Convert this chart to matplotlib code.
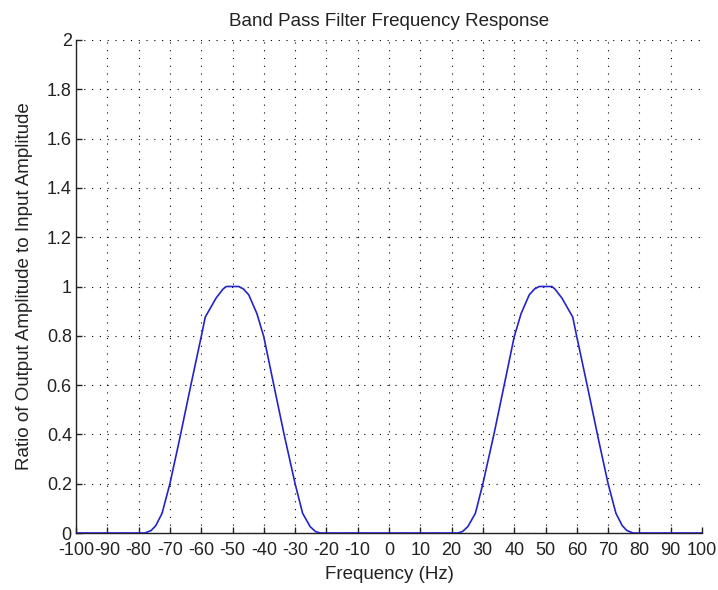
import matplotlib
matplotlib.use("Agg")
import matplotlib.pyplot as plt

plt.rcParams['font.family'] = ['Liberation Sans', 'DejaVu Sans']

# Frequency (Hz) and amplitude ratio
freq = [-100, -78, -76, -74.5, -72.5, -70, -67, -63.3, -60, -58.7, -55.3, -53, -52,
        -48, -46.5, -44.8, -42.2, -40, -36.8, -33.6, -30, -27.6, -25.2, -23.5, -22,
        22, 23.5, 25.2, 27.6, 30, 33.6, 36.8, 40, 42.2, 44.8, 46.5, 48,
        52, 53, 55.3, 58.7, 60, 63.3, 67, 70, 72.5, 74.5, 76, 78, 100]
ratio = [0, 0, 0.01, 0.03, 0.08, 0.2, 0.375, 0.6, 0.796, 0.876, 0.952, 0.99, 1.0,
         1.0, 0.99, 0.966, 0.89, 0.796, 0.6, 0.405, 0.2, 0.08, 0.026, 0.006, 0,
         0, 0.006, 0.026, 0.08, 0.2, 0.405, 0.6, 0.796, 0.89, 0.966, 0.99, 1.0,
         1.0, 0.99, 0.952, 0.876, 0.796, 0.6, 0.375, 0.2, 0.08, 0.03, 0.01, 0, 0]

xticks = list(range(-100, 101, 10))
yticks = [0, 0.2, 0.4, 0.6, 0.8, 1, 1.2, 1.4, 1.6, 1.8, 2]
ytick_labels = ['0', '0.2', '0.4', '0.6', '0.8', '1', '1.2', '1.4', '1.6', '1.8', '2']

title = 'Band Pass Filter Frequency Response'
xlabel = 'Frequency (Hz)'
ylabel = 'Ratio of Output Amplitude to Input Amplitude'

fig = plt.figure(figsize=(7.18, 5.90), dpi=100)
ax = fig.add_axes([76/718, 1 - 533/590, (702 - 76)/718, (533 - 40)/590])

ax.plot(freq, ratio, color='#2323cc', lw=1.2, zorder=3)

ax.set_xlim(-100, 100)
ax.set_ylim(0, 2)
ax.set_xticks(xticks)
ax.set_xticklabels([str(t) for t in xticks])
ax.set_yticks(yticks)
ax.set_yticklabels(ytick_labels)

ax.grid(True, color='black', linestyle=(0, (1, 6)), linewidth=0.8)
for s in ['top', 'right']:
    ax.spines[s].set_visible(False)
for s in ['left', 'bottom']:
    ax.spines[s].set_color('#222222')
    ax.spines[s].set_linewidth(1.0)

ax.tick_params(direction='in', length=4, width=1, colors='#222222', labelsize=13,
               labelcolor='#222222')
ax.tick_params(axis='x', pad=6.5)
ax.tick_params(axis='y', pad=3)

ax.set_title(title, fontsize=13.5, color='#222222', pad=10)
ax.set_xlabel(xlabel, fontsize=13.5, color='#222222', labelpad=5)
ax.set_ylabel(ylabel, fontsize=13.5, color='#222222', labelpad=10)

fig.savefig('out.png', dpi=100, facecolor='white')
